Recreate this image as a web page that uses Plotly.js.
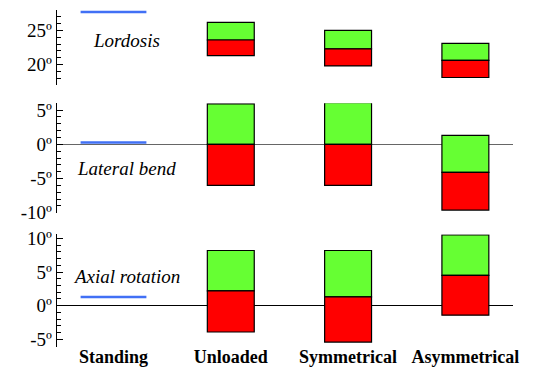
<!DOCTYPE html>
<html>
<head>
<meta charset="utf-8">
<script src="https://cdn.plot.ly/plotly-3.0.1.min.js"></script>
<style>
html,body{margin:0;padding:0;background:#fff;}
#chart{width:535px;height:367px;}
#chart svg text{font-family:'Liberation Serif', 'Times New Roman', serif !important;}
</style>
</head>
<body>
<div id="chart"></div>
<script>
// ---- data ----
const categories = ['Standing', 'Unloaded', 'Symmetrical', 'Asymmetrical'];
const conditions = ['Unloaded', 'Symmetrical', 'Asymmetrical'];

// Lordosis (degrees)
const lordosisStanding = [27.7];
const lordosisTop = [26.2, 25.0, 23.1];
const lordosisMid = [23.6, 22.3, 20.6];
const lordosisBottom = [21.3, 19.8, 18.1];

// Lateral bend (degrees)
const lateralStanding = [0.25];
const lateralTop = [5.9, 6.1, 1.3];
const lateralMid = [0.0, 0.0, -4.1];
const lateralBottom = [-6.0, -6.0, -9.6];

// Axial rotation (degrees)
const axialStanding = [1.3];
const axialTop = [8.2, 8.2, 10.5];
const axialMid = [2.2, 1.3, 4.5];
const axialBottom = [-3.9, -5.4, -1.4];

const panelNames = ['Lordosis', 'Lateral bend', 'Axial rotation'];
const tickVals1 = [20, 25], tickText1 = ['20º', '25º'];
const tickVals2 = [-10, -5, 0, 5], tickText2 = ['-10º', '-5º', '0º', '5º'];
const tickVals3 = [-5, 0, 5, 10], tickText3 = ['-5º', '0º', '5º', '10º'];

// ---- styles ----
const GREEN = '#66ff33', RED = '#ff0000', BLUE = '#4170f5';
const serif = 'Liberation Serif';

function diff(a, b) { return a.map((v, i) => v - b[i]); }

const traces = [];
const panels = [
  {ax: 'y', st: lordosisStanding, top: lordosisTop, mid: lordosisMid, bot: lordosisBottom},
  {ax: 'y2', st: lateralStanding, top: lateralTop, mid: lateralMid, bot: lateralBottom},
  {ax: 'y3', st: axialStanding, top: axialTop, mid: axialMid, bot: axialBottom}
];
panels.forEach(p => {
  traces.push({type: 'bar', x: conditions, y: diff(p.top, p.mid), base: p.mid, yaxis: p.ax,
    width: 0.4, marker: {color: GREEN, line: {color: '#000', width: 1.2}}, hoverinfo: 'skip'});
  traces.push({type: 'bar', x: conditions, y: diff(p.mid, p.bot), base: p.bot, yaxis: p.ax,
    width: 0.4, marker: {color: RED, line: {color: '#000', width: 1.2}}, hoverinfo: 'skip'});
  traces.push({type: 'scatter', mode: 'markers', x: [categories[0]], y: p.st, yaxis: p.ax,
    marker: {symbol: 'line-ew', size: 47, color: BLUE, line: {color: BLUE, width: 2.5}}, hoverinfo: 'skip'});
});

function yax(domain, range, vals, text, zl, zcol) {
  return {
    domain: domain, range: range, anchor: 'x', showgrid: false,
    zeroline: zl, zerolinecolor: zcol, zerolinewidth: 1.3,
    showline: true, linecolor: '#000', linewidth: 1.3,
    tickmode: 'array', tickvals: vals, ticktext: text,
    ticks: 'inside', ticklen: 6, tickcolor: '#000', tickwidth: 1,
    minor: {dtick: 1, ticks: 'inside', ticklen: 4, tickcolor: '#000', tickwidth: 1},
    tickfont: {family: serif, size: 19, color: '#000'},
    ticklabelstandoff: 0, automargin: false, fixedrange: true
  };
}

const layout = {
  width: 535, height: 367,
  margin: {l: 57, r: 22, t: 10, b: 20},
  paper_bgcolor: '#fff', plot_bgcolor: 'rgba(0,0,0,0)',
  showlegend: false, barmode: 'overlay',
  xaxis: {
    type: 'category', categoryarray: categories, categoryorder: 'array',
    range: [-0.4817, 3.406], anchor: 'y3', showgrid: false, zeroline: false,
    showline: false, ticks: '', automargin: false, fixedrange: true,
    ticklabelstandoff: -3,
    tickfont: {family: serif, size: 18, color: '#000', weight: 'bold'}
  },
  yaxis: yax([0.7774, 1], [17, 28], tickVals1, tickText1, false, '#000'),
  yaxis2: yax([0.3982, 0.7234], [-10, 6], tickVals2, tickText2, true, '#666'),
  yaxis3: yax([0, 0.3344], [-6.13, 10.6], tickVals3, tickText3, true, '#000'),
  annotations: [
    {text: panelNames[0], xref: 'x domain', yref: 'y domain', x: 0.1535, y: 0.6},
    {text: panelNames[1], xref: 'x domain', yref: 'y2 domain', x: 0.1535, y: 0.4},
    {text: panelNames[2], xref: 'x domain', yref: 'y3 domain', x: 0.1535, y: 0.63}
  ].map(a => Object.assign(a, {showarrow: false, xanchor: 'center', yanchor: 'middle',
    font: {family: serif, size: 19, color: '#000', style: 'italic'}}))
};

Plotly.newPlot('chart', traces, layout, {staticPlot: true, displayModeBar: false});
</script>
</body>
</html>
